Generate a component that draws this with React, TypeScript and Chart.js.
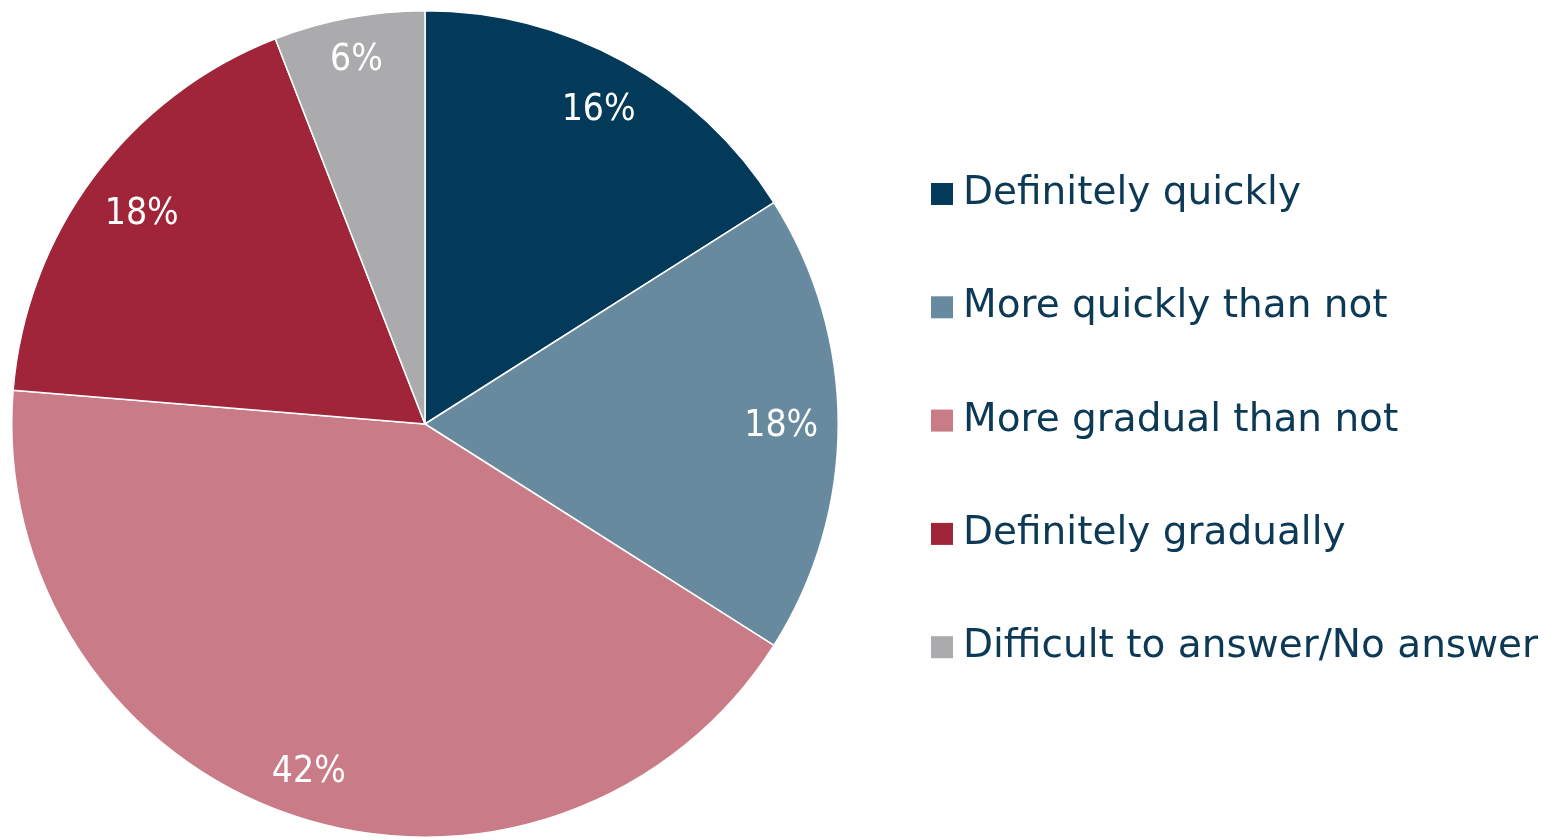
import React, { useEffect, useRef } from "react";
import { Chart, registerables } from "chart.js";

Chart.register(...registerables);

const categories = [
  "Definitely quickly",
  "More quickly than not",
  "More gradual than not",
  "Definitely gradually",
  "Difficult to answer/No answer",
];
const values = [16, 18, 42.3, 17.8, 5.9];
const colors = ["#033A5A", "#688A9E", "#C97C88", "#A02538", "#ABABAD"];
const LABEL_FONT = "'DejaVu Sans Condensed', 'DejaVu Sans', sans-serif";
const LEGEND_FONT = "'DejaVu Sans', sans-serif";
const TEXT_COLOR = "#0C3956";

const labelPlugin = {
  id: "sliceLabels",
  afterDatasetsDraw(chart: any) {
    const ctx = chart.ctx;
    const meta = chart.getDatasetMeta(0);
    ctx.save();
    ctx.font = `37px ${LABEL_FONT}`;
    ctx.fillStyle = "#FFFFFF";
    ctx.textAlign = "center";
    ctx.textBaseline = "middle";
    meta.data.forEach((arc: any, i: number) => {
      const p = arc.getProps(["x", "y", "startAngle", "endAngle", "outerRadius"], true);
      const mid = (p.startAngle + p.endAngle) / 2;
      const txt = Math.round(values[i]) + "%";
      const hw = ctx.measureText(txt).width / 2;
      const hh = 17;
      const ux = Math.cos(mid);
      const uy = Math.sin(mid);
      const ext = hw * Math.abs(ux) + hh * Math.abs(uy);
      const r = p.outerRadius - 20 - ext;
      ctx.fillText(txt, p.x + ux * r, p.y + uy * r + 2);
    });
    ctx.restore();
  },
};

const legendPlugin = {
  id: "customLegend",
  afterDraw(chart: any) {
    const ctx = chart.ctx;
    const area = chart.chartArea;
    const x0 = area.right + 91;
    const yStart = 194;
    const step = 113.3;
    ctx.save();
    ctx.font = `39px ${LEGEND_FONT}`;
    ctx.textBaseline = "middle";
    ctx.textAlign = "left";
    (chart.data.labels as string[]).forEach((lab, i) => {
      const y = yStart + i * step;
      ctx.fillStyle = colors[i];
      ctx.fillRect(x0, y - 11, 22, 22);
      ctx.fillStyle = TEXT_COLOR;
      ctx.fillText(lab, x0 + 32, y);
    });
    ctx.restore();
  },
};

export default function App() {
  const ref = useRef<HTMLCanvasElement | null>(null);
  useEffect(() => {
    const chart = new Chart(ref.current!, {
      type: "pie",
      data: {
        labels: categories,
        datasets: [
          {
            data: values,
            backgroundColor: colors,
            borderColor: "#FFFFFF",
            borderWidth: 1.5,
          },
        ],
      },
      options: {
        animation: false,
        responsive: false,
        maintainAspectRatio: false,
        layout: { padding: { left: 10, top: 10, bottom: 2, right: 713 } },
        plugins: {
          legend: { display: false },
          tooltip: { enabled: false },
        },
      },
      plugins: [labelPlugin, legendPlugin],
    });
    return () => chart.destroy();
  }, []);
  return (
    <div style={{ position: "fixed", left: 0, top: 0, width: 1553, height: 840, background: "#fff" }}>
      <canvas ref={ref} width={1553} height={840} style={{ width: 1553, height: 840 }} />
    </div>
  );
}
